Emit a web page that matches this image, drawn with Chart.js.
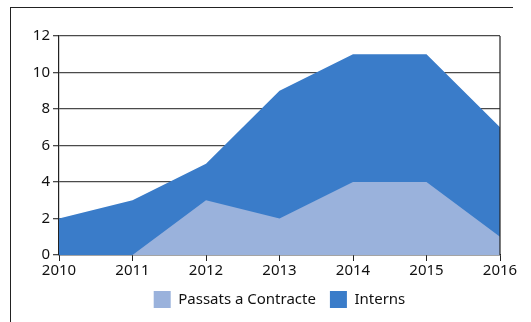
<!DOCTYPE html>
<html>
<head>
<meta charset="utf-8">
<script src="https://cdn.jsdelivr.net/npm/chart.js@4"></script>
<style>
  html, body { margin: 0; padding: 0; background: #fff; }
  #wrap { position: relative; width: 531px; height: 322px; overflow: hidden; }
  #frame { position: absolute; left: 10px; top: 7px; width: 502px; height: 330px;
           border-top: 1.5px solid #222; border-left: 1.5px solid #222; }
  canvas { position: absolute; left: 0; top: 0; }
</style>
</head>
<body>
<div id="wrap">
  <div id="frame"></div>
  <canvas id="areaChart" width="531" height="322"></canvas>
</div>
<script>
const years = ['2010', '2011', '2012', '2013', '2014', '2015', '2016'];
const passats = [0, 0, 3, 2, 4, 4, 1];
const interns = [2, 3, 5, 9, 11, 11, 7];
const yTicks = [0, 2, 4, 6, 8, 10, 12];

const FONT = { family: '"Noto Sans", sans-serif', size: 15 };

// closes the plot box on the right side
const rightBorder = {
  id: 'rightBorder',
  afterDraw(chart) {
    const { ctx, chartArea } = chart;
    ctx.save();
    ctx.strokeStyle = '#222';
    ctx.lineWidth = 1.2;
    ctx.beginPath();
    ctx.moveTo(chartArea.right, chartArea.top);
    ctx.lineTo(chartArea.right, chartArea.bottom);
    ctx.stroke();
    ctx.restore();
  }
};

// center the legend under the plot area instead of the canvas
const legendUnderPlot = {
  id: 'legendUnderPlot',
  afterLayout(chart) {
    const lg = chart.legend;
    const area = chart.chartArea;
    const shift = (area.left + area.right) / 2 - (lg.left + lg.right) / 2;
    lg.left += shift;
    lg.right += shift;
  }
};

const ctx = document.getElementById('areaChart').getContext('2d');
new Chart(ctx, {
  type: 'line',
  data: {
    labels: years,
    datasets: [
      {
        label: 'Passats a Contracte',
        data: passats,
        backgroundColor: '#9ab2dc',
        borderWidth: 0,
        pointRadius: 0,
        fill: 'origin'
      },
      {
        label: 'Interns',
        data: interns,
        backgroundColor: '#3a7cc9',
        borderWidth: 0,
        pointRadius: 0,
        fill: 'origin'
      }
    ]
  },
  options: {
    responsive: false,
    animation: false,
    layout: { padding: { top: 36, right: 31, bottom: 4, left: 0 } },
    scales: {
      x: {
        offset: false,
        grid: { drawOnChartArea: false, drawTicks: true, tickLength: 6, color: '#222' },
        border: { color: '#222', width: 1.2 },
        ticks: { color: '#111', font: FONT, padding: 1, maxRotation: 0 },
        afterFit(scale) { scale.height = 22; }
      },
      y: {
        min: 0,
        max: 12,
        afterBuildTicks(scale) { scale.ticks = yTicks.map(v => ({ value: v })); },
        grid: { color: '#4a4a4a', lineWidth: 1.3, tickLength: 6 },
        border: { color: '#222', width: 1.2 },
        ticks: { color: '#111', font: FONT, padding: 3 },
        afterFit(scale) { scale.width = 59; }
      }
    },
    plugins: {
      legend: {
        position: 'bottom',
        labels: {
          font: FONT,
          color: '#111',
          boxWidth: 17,
          boxHeight: 17,
          padding: 14
        }
      },
      tooltip: { enabled: false }
    }
  },
  plugins: [rightBorder, legendUnderPlot]
});
</script>
</body>
</html>
